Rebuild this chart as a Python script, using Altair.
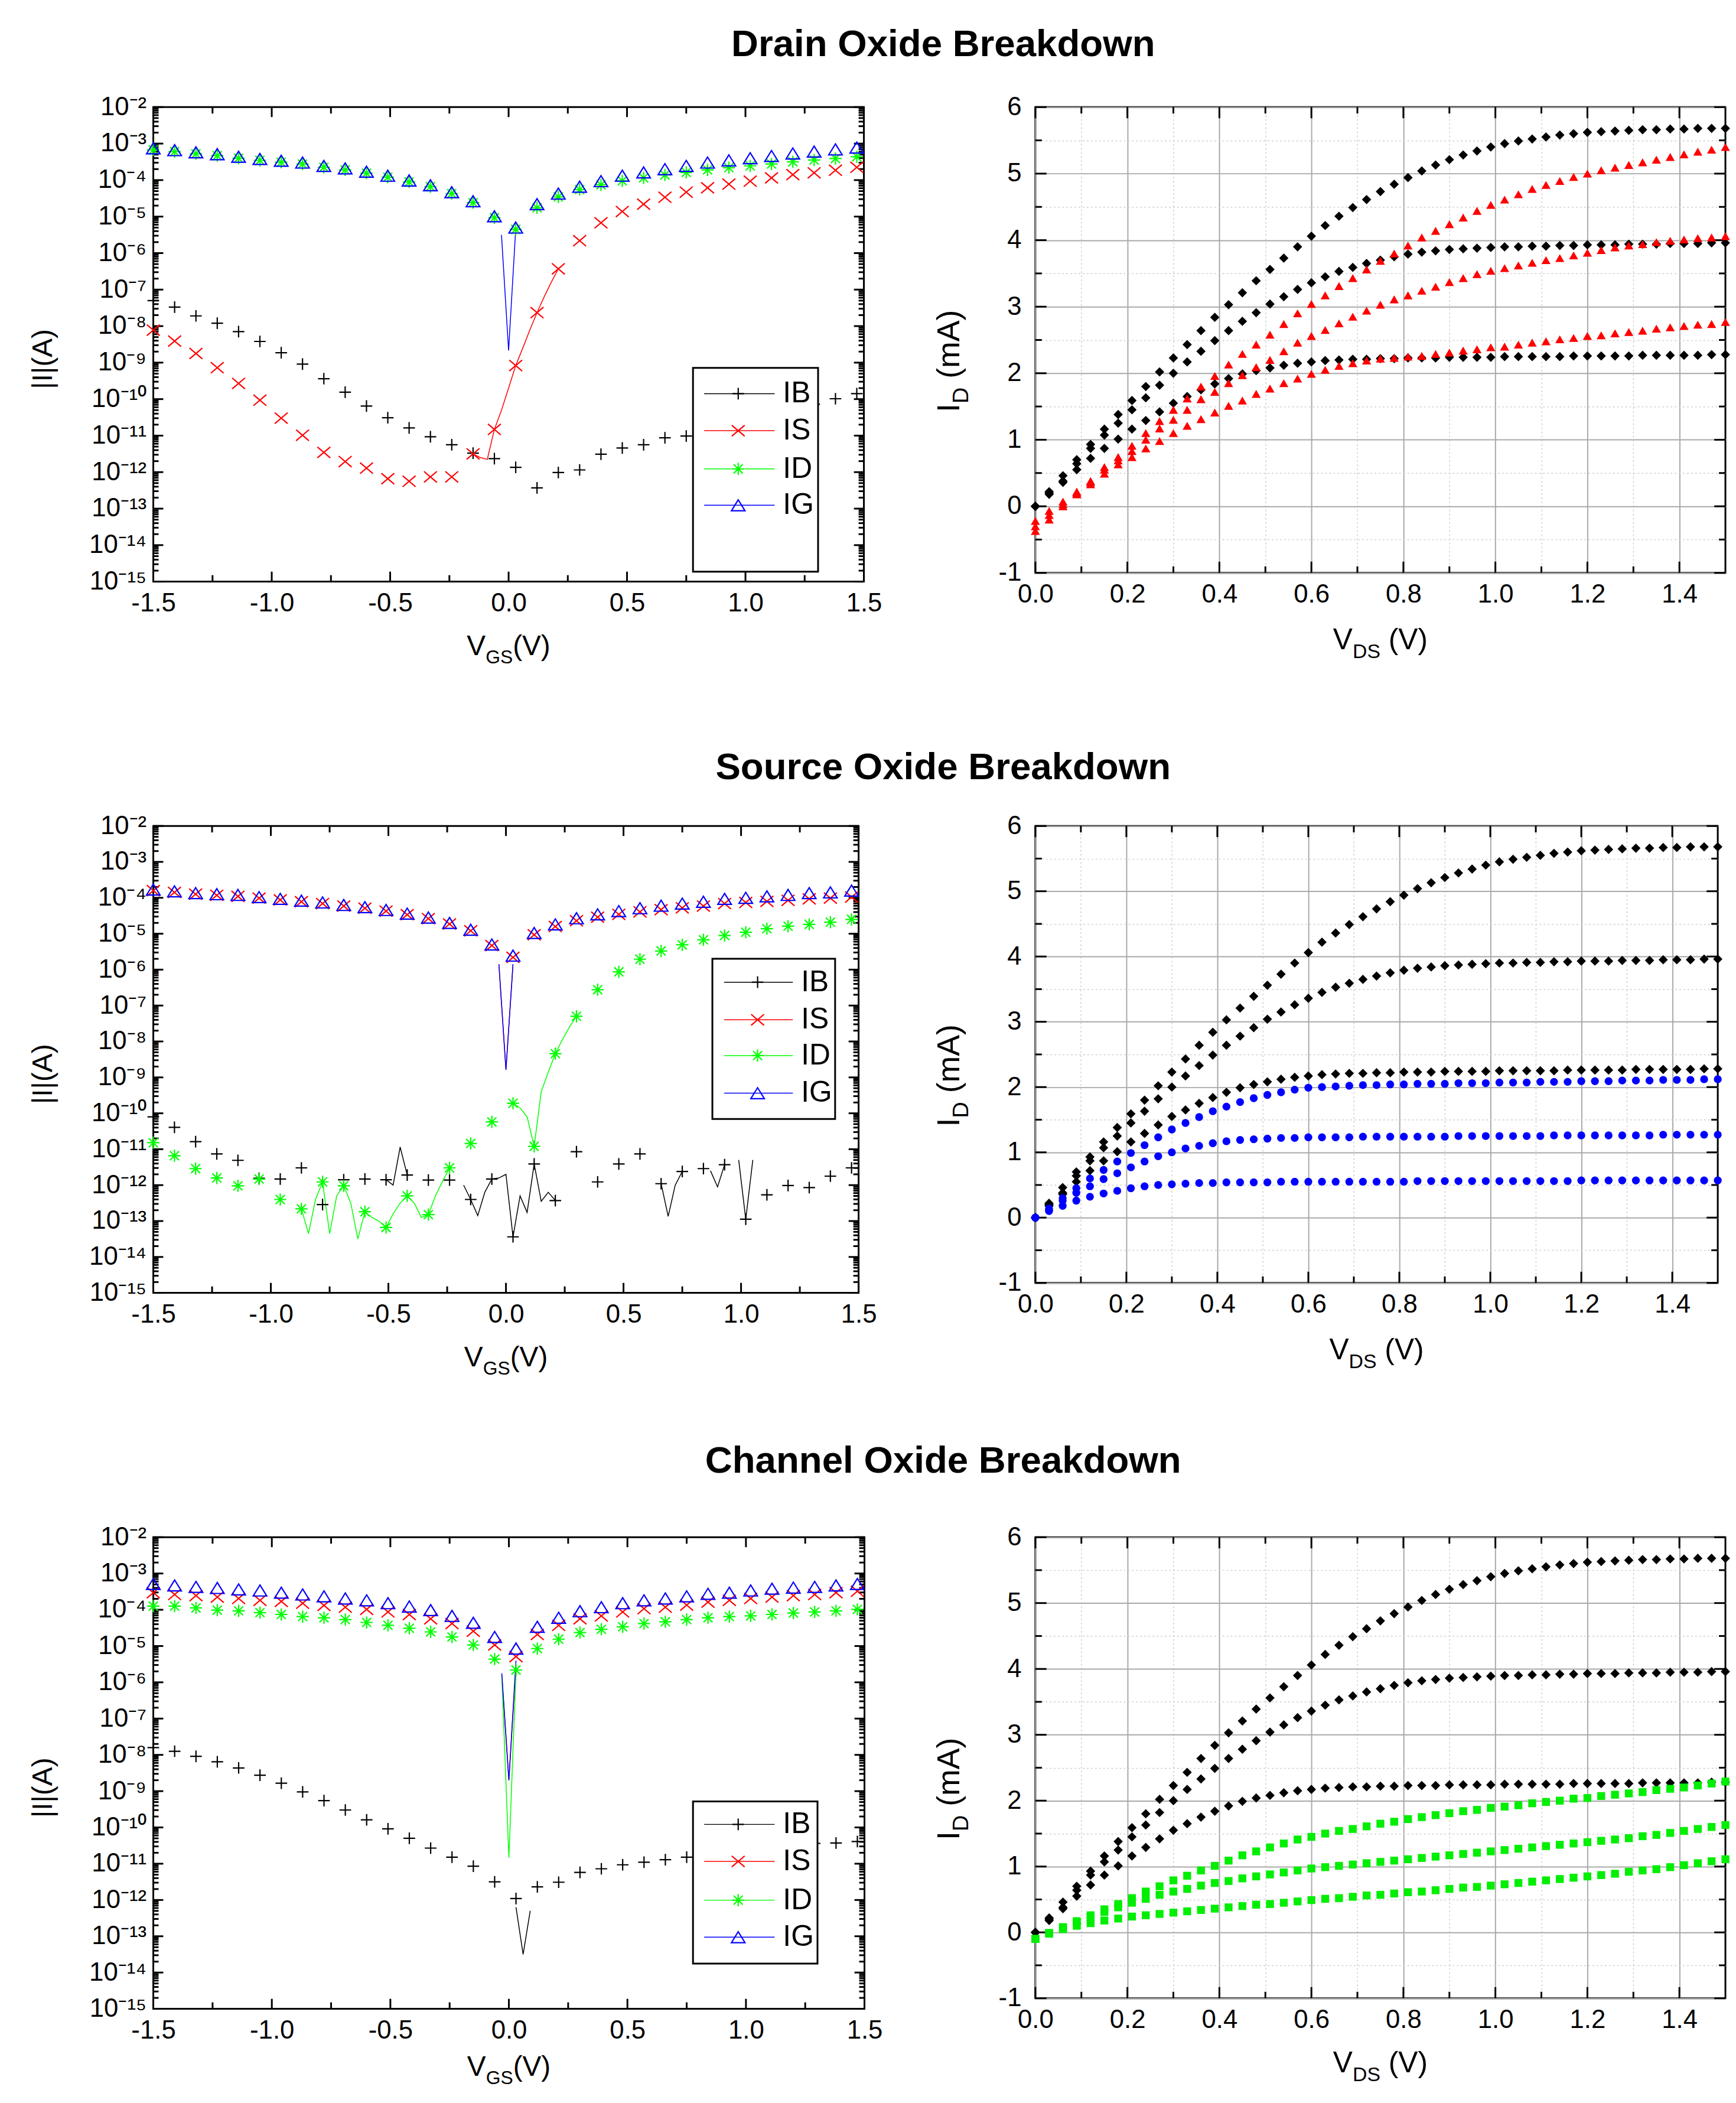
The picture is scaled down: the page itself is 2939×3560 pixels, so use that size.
import altair as alt
import pandas as pd

FONT = "Liberation Sans"
LABEL_SIZE = 44

# ---------------------------------------------------------------- data
SERIES = ["IB", "IS", "ID", "IG"]
SERIES_COLORS = ["#000000", "#ff0000", "#00ff00", "#0000ff"]
SERIES_PATHS = [
    "M-0.9,0H0.9M0,-0.9V0.9",
    "M-1,-0.85L1,0.85M-1,0.85L1,-0.85",
    "M-0.95,0H0.95M0,-0.95V0.95M-0.7,-0.7L0.7,0.7M-0.7,0.7L0.7,-0.7",
    "M0,-0.85L1.05,0.85L-1.05,0.85Z",
]

# gate sweep (markers every 0.09 V)
VGS = [-1.50, -1.41, -1.32, -1.23, -1.14, -1.05, -0.96, -0.87, -0.78, -0.69, -0.60, -0.51,
       -0.42, -0.33, -0.24, -0.15, -0.06, 0.03, 0.12, 0.21, 0.30, 0.39, 0.48, 0.57, 0.66,
       0.75, 0.84, 0.93, 1.02, 1.11, 1.20, 1.29, 1.38, 1.47]

# log10(|I| / A)
DRAIN_IB = [-7.30, -7.48, -7.72, -7.92, -8.15, -8.42, -8.73, -9.04, -9.44, -9.81, -10.19, -10.51,
            -10.79, -11.03, -11.25, -11.48, -11.63, -11.87, -12.43, -12.01, -11.94, -11.51, -11.34,
            -11.25, -11.06, -11.01, -10.86, -10.70, -10.55, -10.39, -10.27, -10.14, -9.99, -9.85]
DRAIN_IS = [-8.11, -8.41, -8.75, -9.14, -9.57, -10.03, -10.52, -10.99, -11.46, -11.71, -11.89, -12.18,
            -12.25, -12.13, -12.13, -11.50, -10.83, -9.08, -7.63, -6.43, -5.66, -5.17, -4.86, -4.66,
            -4.47, -4.33, -4.21, -4.11, -4.03, -3.94, -3.85, -3.80, -3.73, -3.65]
DRAIN_ID = [-3.17, -3.22, -3.28, -3.33, -3.40, -3.46, -3.51, -3.56, -3.65, -3.72, -3.81, -3.92,
            -4.05, -4.18, -4.37, -4.62, -5.03, -5.35, -4.76, -4.46, -4.26, -4.13, -4.02, -3.94,
            -3.86, -3.79, -3.72, -3.66, -3.61, -3.56, -3.50, -3.45, -3.41, -3.36]
DRAIN_IG = [-3.13, -3.18, -3.24, -3.29, -3.36, -3.42, -3.47, -3.52, -3.61, -3.68, -3.77, -3.88,
            -4.01, -4.14, -4.33, -4.58, -4.99, -5.30, -4.66, -4.37, -4.18, -4.03, -3.88, -3.79,
            -3.70, -3.61, -3.52, -3.46, -3.40, -3.34, -3.27, -3.22, -3.16, -3.11]
DRAIN_LINES = [
    ("IS", [-0.15, -0.12, -0.09, -0.06, -0.03, 0.00, 0.03, 0.06, 0.09, 0.12, 0.15, 0.18, 0.21],
     [-11.50, -11.60, -11.65, -10.83, -10.30, -9.70, -9.08, -8.60, -8.10, -7.63, -7.20, -6.80, -6.43]),
    ("IG", [-0.03, 0.00, 0.03], [-5.50, -8.67, -5.35]),
]

SOURCE_IB = [-10.10, -10.39, -10.79, -11.13, -11.31, -11.81, -11.83, -11.52, -12.54, -11.85, -11.83,
             -11.85, -11.72, -11.86, -11.86, -12.40, -11.83, -13.44, -11.41, -12.43, -11.07, -11.91,
             -11.41, -11.13, -11.96, -11.62, -11.54, -11.43, -12.95, -12.27, -12.01, -12.07, -11.75,
             -11.52]
SOURCE_IS = [-3.80, -3.85, -3.90, -3.93, -3.96, -4.01, -4.06, -4.11, -4.16, -4.23, -4.29, -4.37,
             -4.47, -4.58, -4.73, -4.92, -5.33, -5.66, -5.03, -4.80, -4.64, -4.54, -4.46, -4.39,
             -4.33, -4.28, -4.23, -4.16, -4.13, -4.10, -4.07, -4.03, -4.01, -3.98]
SOURCE_ID = [-10.82, -11.18, -11.54, -11.80, -12.02, -11.83, -12.40, -12.66, -11.91, -12.02, -12.74,
             -13.18, -12.30, -12.82, -11.52, -10.84, -10.24, -9.72, -10.92, -8.34, -7.30, -6.56,
             -6.06, -5.71, -5.48, -5.31, -5.17, -5.05, -4.96, -4.86, -4.79, -4.74, -4.68, -4.60]
SOURCE_IG = [-3.77, -3.82, -3.87, -3.90, -3.92, -3.98, -4.03, -4.08, -4.13, -4.20, -4.26, -4.34,
             -4.44, -4.55, -4.70, -4.89, -5.30, -5.61, -4.98, -4.74, -4.57, -4.46, -4.37, -4.29,
             -4.22, -4.16, -4.11, -4.03, -4.00, -3.96, -3.92, -3.87, -3.85, -3.80]
SOURCE_LINES = [
    ("IB", [-0.51, -0.48, -0.45, -0.42], [-11.85, -12.00, -10.94, -11.72]),
    ("IB", [-0.18, -0.15, -0.12, -0.09, -0.06, -0.03, 0.00, 0.03, 0.06, 0.09, 0.12, 0.15, 0.18, 0.21],
     [-12.00, -12.40, -12.85, -12.20, -11.83, -11.80, -11.70, -13.44, -12.30, -12.76, -11.41,
      -12.45, -12.20, -12.43]),
    ("IB", [0.66, 0.69, 0.72, 0.75], [-11.96, -12.87, -12.00, -11.62]),
    ("IB", [0.87, 0.90, 0.93], [-11.60, -12.05, -11.43]),
    ("IB", [0.99, 1.02, 1.05], [-11.30, -12.95, -11.30]),
    ("IS", [-0.03, 0.00, 0.03], [-5.85, -8.79, -5.85]),
    ("ID", [-0.87, -0.84, -0.81, -0.78, -0.75, -0.72, -0.69, -0.66, -0.63, -0.60, -0.57, -0.54,
            -0.51, -0.48, -0.45, -0.42, -0.39, -0.36, -0.33, -0.30, -0.27, -0.24],
     [-12.66, -13.35, -12.40, -11.91, -13.35, -12.30, -12.02, -12.50, -13.50, -12.74, -12.90,
      -13.00, -13.18, -12.80, -12.50, -12.30, -12.50, -12.90, -12.82, -12.30, -11.90, -11.52]),
    ("ID", [0.03, 0.06, 0.09, 0.12, 0.15, 0.18, 0.21, 0.24, 0.27, 0.30],
     [-9.72, -9.85, -10.10, -10.92, -9.40, -8.85, -8.34, -7.95, -7.60, -7.30]),
    ("IG", [-0.03, 0.00, 0.03], [-5.85, -8.79, -5.85]),
]

CHANNEL_IB = [-7.80, -7.90, -8.04, -8.19, -8.36, -8.56, -8.78, -9.02, -9.26, -9.52, -9.79, -10.04,
              -10.30, -10.57, -10.82, -11.07, -11.50, -11.96, -11.64, -11.51, -11.24, -11.14, -11.03,
              -10.96, -10.89, -10.82, -10.73, -10.65, -10.59, -10.54, -10.48, -10.44, -10.43, -10.39]
CHANNEL_IS = [-3.53, -3.58, -3.61, -3.65, -3.69, -3.74, -3.77, -3.82, -3.88, -3.93, -3.99, -4.06,
              -4.13, -4.25, -4.38, -4.59, -4.97, -5.29, -4.68, -4.43, -4.25, -4.17, -4.06, -3.97,
              -3.93, -3.87, -3.79, -3.74, -3.69, -3.65, -3.61, -3.58, -3.53, -3.49]
CHANNEL_ID = [-3.90, -3.90, -3.95, -4.01, -4.03, -4.08, -4.13, -4.19, -4.22, -4.27, -4.35, -4.43,
              -4.51, -4.61, -4.75, -4.97, -5.36, -5.66, -5.07, -4.81, -4.63, -4.54, -4.47, -4.38,
              -4.33, -4.27, -4.22, -4.19, -4.17, -4.13, -4.09, -4.06, -4.03, -3.99]
CHANNEL_IG = [-3.29, -3.33, -3.37, -3.40, -3.44, -3.47, -3.53, -3.58, -3.63, -3.69, -3.74, -3.82,
              -3.91, -4.01, -4.17, -4.36, -4.75, -5.07, -4.47, -4.22, -4.04, -3.93, -3.82, -3.74,
              -3.69, -3.63, -3.56, -3.53, -3.47, -3.42, -3.39, -3.37, -3.33, -3.29]
CHANNEL_LINES = [
    ("IB", [0.03, 0.06, 0.09], [-12.20, -13.50, -12.30]),
    ("IS", [-0.03, 0.00, 0.03], [-5.80, -8.70, -5.50]),
    ("ID", [-0.03, 0.00, 0.03], [-5.80, -10.84, -5.70]),
    ("IG", [-0.03, 0.00, 0.03], [-5.75, -8.70, -5.40]),
]

# drain sweep (mA)
VDS = [0.00, 0.03, 0.06, 0.09, 0.12, 0.15, 0.18, 0.21, 0.24, 0.27, 0.30, 0.33, 0.36, 0.39, 0.42,
       0.45, 0.48, 0.51, 0.54, 0.57, 0.60, 0.63, 0.66, 0.69, 0.72, 0.75, 0.78, 0.81, 0.84, 0.87,
       0.90, 0.93, 0.96, 0.99, 1.02, 1.05, 1.08, 1.11, 1.14, 1.17, 1.20, 1.23, 1.26, 1.29, 1.32,
       1.35, 1.38, 1.41, 1.44, 1.47, 1.50]
FRESH_HI = [0.00, 0.22, 0.46, 0.70, 0.93, 1.16, 1.38, 1.59, 1.80, 2.02, 2.23, 2.43, 2.64, 2.84, 3.03,
            3.21, 3.39, 3.56, 3.73, 3.90, 4.06, 4.22, 4.36, 4.49, 4.61, 4.73, 4.84, 4.94, 5.04, 5.13,
            5.21, 5.28, 5.34, 5.40, 5.45, 5.49, 5.52, 5.55, 5.58, 5.60, 5.62, 5.63, 5.64, 5.65, 5.66,
            5.66, 5.67, 5.67, 5.68, 5.68, 5.68]
FRESH_MID = [0.00, 0.20, 0.38, 0.64, 0.87, 1.07, 1.25, 1.45, 1.63, 1.82, 2.00, 2.17, 2.33, 2.49, 2.64,
             2.78, 2.91, 3.04, 3.15, 3.26, 3.36, 3.45, 3.53, 3.59, 3.65, 3.70, 3.75, 3.79, 3.82, 3.84,
             3.86, 3.87, 3.88, 3.89, 3.90, 3.90, 3.91, 3.91, 3.92, 3.92, 3.93, 3.93, 3.93, 3.94, 3.94,
             3.94, 3.95, 3.95, 3.95, 3.96, 3.96]
FRESH_LO = [0.00, 0.18, 0.36, 0.55, 0.72, 0.87, 1.01, 1.16, 1.29, 1.42, 1.55, 1.65, 1.75, 1.84, 1.92,
            1.99, 2.04, 2.08, 2.12, 2.15, 2.17, 2.19, 2.20, 2.21, 2.21, 2.22, 2.22, 2.23, 2.23, 2.23,
            2.24, 2.24, 2.24, 2.24, 2.25, 2.25, 2.25, 2.25, 2.25, 2.26, 2.26, 2.26, 2.26, 2.26, 2.27,
            2.27, 2.27, 2.27, 2.27, 2.28, 2.28]
DRAIN_HI = [-0.22, -0.07, 0.07, 0.22, 0.38, 0.59, 0.74, 0.91, 1.10, 1.28, 1.45, 1.62, 1.80, 1.96, 2.13,
            2.29, 2.43, 2.58, 2.74, 2.90, 3.04, 3.17, 3.31, 3.43, 3.56, 3.69, 3.80, 3.92, 4.04, 4.14,
            4.24, 4.34, 4.44, 4.53, 4.61, 4.69, 4.77, 4.83, 4.89, 4.95, 5.00, 5.05, 5.09, 5.13, 5.17,
            5.21, 5.25, 5.29, 5.33, 5.36, 5.40]
DRAIN_MID = [-0.30, -0.13, 0.03, 0.20, 0.36, 0.55, 0.69, 0.83, 1.00, 1.17, 1.30, 1.45, 1.61, 1.72, 1.85,
             1.97, 2.09, 2.20, 2.33, 2.46, 2.56, 2.65, 2.75, 2.85, 2.94, 3.03, 3.11, 3.17, 3.24, 3.30,
             3.37, 3.43, 3.49, 3.54, 3.58, 3.62, 3.66, 3.70, 3.73, 3.77, 3.81, 3.85, 3.89, 3.92, 3.94,
             3.97, 3.99, 4.01, 4.03, 4.04, 4.06]
DRAIN_LO = [-0.37, -0.20, 0.00, 0.18, 0.33, 0.49, 0.63, 0.74, 0.87, 0.98, 1.10, 1.21, 1.31, 1.41, 1.51,
            1.59, 1.69, 1.77, 1.85, 1.92, 1.99, 2.05, 2.11, 2.15, 2.19, 2.22, 2.23, 2.25, 2.26, 2.29,
            2.31, 2.34, 2.36, 2.39, 2.40, 2.43, 2.46, 2.48, 2.51, 2.53, 2.56, 2.57, 2.60, 2.62, 2.64,
            2.67, 2.69, 2.71, 2.73, 2.74, 2.77]
SOURCE_HI = [0.00, 0.14, 0.30, 0.45, 0.60, 0.73, 0.86, 0.99, 1.11, 1.23, 1.35, 1.45, 1.54, 1.63, 1.70,
             1.77, 1.83, 1.88, 1.92, 1.96, 1.99, 2.00, 2.01, 2.02, 2.03, 2.03, 2.04, 2.04, 2.05, 2.05,
             2.05, 2.06, 2.06, 2.06, 2.07, 2.07, 2.07, 2.08, 2.08, 2.08, 2.09, 2.09, 2.09, 2.10, 2.10,
             2.10, 2.11, 2.11, 2.11, 2.12, 2.12]
SOURCE_MID = [0.00, 0.12, 0.26, 0.38, 0.48, 0.59, 0.68, 0.77, 0.86, 0.94, 1.00, 1.06, 1.10, 1.14, 1.17,
              1.19, 1.20, 1.21, 1.22, 1.22, 1.23, 1.23, 1.23, 1.23, 1.24, 1.24, 1.24, 1.24, 1.24, 1.24,
              1.24, 1.25, 1.25, 1.25, 1.25, 1.25, 1.25, 1.25, 1.26, 1.26, 1.26, 1.26, 1.26, 1.26, 1.26,
              1.26, 1.27, 1.27, 1.27, 1.27, 1.27]
SOURCE_LO = [0.00, 0.10, 0.18, 0.26, 0.32, 0.37, 0.41, 0.45, 0.48, 0.50, 0.51, 0.52, 0.53, 0.53, 0.54,
             0.54, 0.54, 0.54, 0.55, 0.55, 0.55, 0.55, 0.55, 0.55, 0.55, 0.55, 0.55, 0.55, 0.56, 0.56,
             0.56, 0.56, 0.56, 0.56, 0.56, 0.56, 0.56, 0.56, 0.56, 0.56, 0.57, 0.57, 0.57, 0.57, 0.57,
             0.57, 0.57, 0.57, 0.57, 0.57, 0.57]
CHANNEL_HI = [-0.10, -0.01, 0.08, 0.17, 0.26, 0.35, 0.43, 0.52, 0.62, 0.70, 0.79, 0.86, 0.94, 1.01, 1.09,
              1.17, 1.23, 1.29, 1.35, 1.41, 1.45, 1.50, 1.54, 1.57, 1.61, 1.65, 1.68, 1.72, 1.75, 1.78,
              1.81, 1.84, 1.86, 1.89, 1.91, 1.93, 1.96, 1.98, 2.00, 2.03, 2.04, 2.07, 2.09, 2.11, 2.13,
              2.16, 2.18, 2.20, 2.23, 2.26, 2.29]
CHANNEL_MID = [-0.10, -0.01, 0.07, 0.15, 0.23, 0.31, 0.38, 0.45, 0.51, 0.57, 0.62, 0.66, 0.71, 0.75, 0.78,
               0.82, 0.85, 0.88, 0.91, 0.94, 0.97, 0.99, 1.01, 1.03, 1.05, 1.07, 1.09, 1.11, 1.13, 1.15,
               1.17, 1.19, 1.21, 1.23, 1.25, 1.27, 1.29, 1.31, 1.33, 1.35, 1.37, 1.39, 1.41, 1.43, 1.46,
               1.48, 1.51, 1.54, 1.57, 1.60, 1.63]
CHANNEL_LO = [-0.10, -0.02, 0.05, 0.10, 0.14, 0.18, 0.21, 0.24, 0.26, 0.28, 0.30, 0.32, 0.34, 0.36, 0.38,
              0.40, 0.42, 0.43, 0.45, 0.47, 0.49, 0.51, 0.52, 0.54, 0.56, 0.57, 0.59, 0.61, 0.62, 0.64,
              0.66, 0.68, 0.69, 0.71, 0.73, 0.75, 0.77, 0.79, 0.81, 0.83, 0.85, 0.87, 0.89, 0.92, 0.94,
              0.96, 0.99, 1.02, 1.05, 1.08, 1.11]

ROW_TITLES = ["Drain Oxide Breakdown", "Source Oxide Breakdown", "Channel Oxide Breakdown"]

# axis tick positions
LOG_DECADES = [1e-15, 1e-14, 1e-13, 1e-12, 1e-11, 1e-10, 1e-9, 1e-8, 1e-7, 1e-6, 1e-5, 1e-4, 1e-3, 1e-2]
LOG_MINOR = [m * d for d in LOG_DECADES[:-1] for m in (2, 3, 4, 5, 6, 7, 8, 9)]
VGS_MAJOR = [-1.5, -1.0, -0.5, 0.0, 0.5, 1.0, 1.5]
VGS_MINOR = [-1.25, -0.75, -0.25, 0.25, 0.75, 1.25]
VDS_MAJOR = [0.0, 0.2, 0.4, 0.6, 0.8, 1.0, 1.2, 1.4]
VDS_MINOR = [0.1, 0.3, 0.5, 0.7, 0.9, 1.1, 1.3]
ID_MAJOR = [-1, 0, 1, 2, 3, 4, 5, 6]
ID_MINOR = [-0.5, 0.5, 1.5, 2.5, 3.5, 4.5, 5.5]

# ---------------------------------------------------------------- helpers
ONE = pd.DataFrame({"a": [0]})
SUP = str.maketrans("-0123456789", "\u207b\u2070\u00b9\u00b2\u00b3\u2074\u2075\u2076\u2077\u2078\u2079")
LOG_LABELS = ["10" + str(-i).translate(SUP) for i in range(16)]
LOG_EXPR = "[" + ",".join("'" + s + "'" for s in LOG_LABELS) + "][-round(log(datum.value)/LN10)]"
SIGNED_1F = "(datum.value < 0 ? '-' : '') + format(abs(datum.value), '.1f')"
SIGNED_D = "(datum.value < 0 ? '-' : '') + format(abs(datum.value), 'd')"

CW = {"V": .667, "G": .778, "S": .667, "D": .722, "(": .333, ")": .333, "I": .278,
      "m": .833, "A": .667, "|": .26, " ": .278}


def tw(s, size):
    return sum(CW.get(c, .6) for c in s) * size


def composite_text(parts, x, y, angle, sub_dy):
    """parts: list of (text, fontsize, is_sub); laid out along the text direction."""
    total = sum(tw(t, f) for t, f, _ in parts)
    off = -total / 2.0
    out = []
    for t, f, sub in parts:
        lead = len(t) - len(t.lstrip(" "))
        shown = t.lstrip(" ")
        out.append(
            alt.Chart(ONE).mark_text(
                text=shown, font=FONT, fontSize=f, align="left", baseline="alphabetic",
                angle=angle, dx=off + tw(" " * lead, f), dy=(sub_dy if sub else 0), color="black"
            ).encode(x=alt.value(x), y=alt.value(y))
        )
        off += tw(t, f)
    return out


def tick_rules(vals, scale, W, H, side, length):
    base = alt.Chart(pd.DataFrame({"v": vals})).mark_rule(color="black", strokeWidth=3)
    if side in ("bottom", "top"):
        y0, y1 = (H, H - length) if side == "bottom" else (0, length)
        return base.encode(x=alt.X("v:Q", scale=scale, axis=None),
                           y=alt.value(y0), y2=alt.value(y1))
    x0, x1 = (0, length) if side == "left" else (W, W - length)
    return base.encode(y=alt.Y("v:Q", scale=scale, axis=None),
                       x=alt.value(x0), x2=alt.value(x1))


def label_axis(orient, values, expr, pad, grid=False):
    kw = dict(orient=orient, values=values, labelExpr=expr, ticks=False, domain=False, grid=grid,
              labelFont=FONT, labelFontSize=LABEL_SIZE, labelColor="black", labelPadding=pad,
              labelFlush=False, labelOverlap=False, title=None)
    if grid:
        kw.update(gridColor="#a9a9a9", gridWidth=2)
    return alt.Axis(**kw)


def minor_grid_axis(orient, values):
    return alt.Axis(orient=orient, values=values, labels=False, ticks=False, domain=False, grid=True,
                    gridColor="#cfcfcf", gridWidth=1.5, gridDash=[3, 4], title=None)


def blank_axis(orient):
    return alt.Axis(orient=orient, labels=False, ticks=False, domain=False, grid=False, title=None)


def left_panel(W, H, ib, is_, id_, ig, segs, legend, title, title_y, xt_base):
    xs = alt.Scale(domain=[-1.5, 1.5], nice=False, zero=False)
    ys = alt.Scale(type="log", domain=[1e-15, 1e-2], nice=False)
    layers = [
        tick_rules(VGS_MAJOR, xs, W, H, "bottom", 17),
        tick_rules(VGS_MAJOR, xs, W, H, "top", 17),
        tick_rules(VGS_MINOR, xs, W, H, "bottom", 11),
        tick_rules(VGS_MINOR, xs, W, H, "top", 11),
        tick_rules(LOG_DECADES, ys, W, H, "left", 17),
        tick_rules(LOG_DECADES, ys, W, H, "right", 17),
        tick_rules(LOG_MINOR, ys, W, H, "left", 9),
        tick_rules(LOG_MINOR, ys, W, H, "right", 9),
    ]
    color = alt.Color("series:N", scale=alt.Scale(domain=SERIES, range=SERIES_COLORS), legend=None)
    rows = []
    for k, (s, vs, ls) in enumerate(segs):
        for v, l in zip(vs, ls):
            rows.append({"seg": k, "series": s, "V": v, "I": 10.0 ** l})
    ldf = pd.DataFrame(rows)
    layers.append(
        alt.Chart(ldf).mark_line(strokeWidth=1.5).encode(
            x=alt.X("V:Q", scale=xs, axis=label_axis("bottom", VGS_MAJOR, SIGNED_1F, 15)),
            y=alt.Y("I:Q", scale=ys, axis=label_axis("left", LOG_DECADES, LOG_EXPR, 12)),
            color=color, detail="seg:N")
    )
    prow = []
    for s, vals in zip(SERIES, [ib, is_, id_, ig]):
        for v, l in zip(VGS, vals):
            prow.append({"series": s, "V": v, "I": 10.0 ** l})
    layers.append(
        alt.Chart(pd.DataFrame(prow)).mark_point(filled=False, strokeWidth=2.2, size=484, opacity=1).encode(
            x=alt.X("V:Q", scale=xs, axis=blank_axis("top")),
            y=alt.Y("I:Q", scale=ys, axis=blank_axis("right")),
            color=color,
            shape=alt.Shape("series:N", scale=alt.Scale(domain=SERIES, range=SERIES_PATHS), legend=None))
    )
    # legend (inside the frame)
    bx1, bx2, by1, by2, ey, lx1, lx2, mx, tx = legend
    layers.append(alt.Chart(ONE).mark_rect(fill="white", stroke="black", strokeWidth=3).encode(
        x=alt.value(bx1), x2=alt.value(bx2), y=alt.value(by1), y2=alt.value(by2)))
    for s, c, p, yy in zip(SERIES, SERIES_COLORS, SERIES_PATHS, ey):
        layers.append(alt.Chart(ONE).mark_rule(color=c, strokeWidth=1.5).encode(
            x=alt.value(lx1), x2=alt.value(lx2), y=alt.value(yy)))
        layers.append(alt.Chart(ONE).mark_point(shape=p, color=c, filled=False, size=484,
                                                strokeWidth=2.2, opacity=1).encode(
            x=alt.value(mx), y=alt.value(yy)))
        layers.append(alt.Chart(ONE).mark_text(text=s, font=FONT, fontSize=50, align="left",
                                               baseline="middle", color="black").encode(
            x=alt.value(tx), y=alt.value(yy)))
    # axis titles
    layers += composite_text([("|I|(A)", 48, False)], -173, H / 2 + 25, 270, 0)
    layers += composite_text([("V", 48, False), ("GS", 32, True), ("(V)", 48, False)],
                             W / 2, H + xt_base, 0, 14)
    # row title
    layers.append(alt.Chart(ONE).mark_text(text=title, font=FONT, fontSize=64, fontWeight="bold",
                                           align="center", baseline="middle", color="black").encode(
        x=alt.value(1345), y=alt.value(title_y)))
    return alt.layer(*layers).properties(width=W, height=H)


def right_panel(W, H, col_vals, col_color, col_shape, col_size, xt_base):
    xs = alt.Scale(domain=[0, 1.5], nice=False, zero=False)
    ys = alt.Scale(domain=[-1, 6], nice=False, zero=False)
    layers = [
        tick_rules(VDS_MAJOR, xs, W, H, "bottom", 19),
        tick_rules(VDS_MAJOR, xs, W, H, "top", 19),
        tick_rules(VDS_MINOR, xs, W, H, "bottom", 11),
        tick_rules(VDS_MINOR, xs, W, H, "top", 11),
        tick_rules(ID_MAJOR, ys, W, H, "left", 19),
        tick_rules(ID_MAJOR, ys, W, H, "right", 19),
        tick_rules(ID_MINOR, ys, W, H, "left", 11),
        tick_rules(ID_MINOR, ys, W, H, "right", 11),
    ]
    fresh = pd.DataFrame([{"curve": n, "V": v, "I": i}
                          for n, vals in (("hi", FRESH_HI), ("mid", FRESH_MID), ("lo", FRESH_LO))
                          for v, i in zip(VDS, vals)])
    layers.append(alt.Chart(fresh).mark_point(filled=True, shape="diamond", size=250, color="black",
                                              opacity=1, strokeWidth=0).encode(
        x=alt.X("V:Q", scale=xs, axis=label_axis("bottom", VDS_MAJOR, SIGNED_1F, 15, True)),
        y=alt.Y("I:Q", scale=ys, axis=label_axis("left", ID_MAJOR, SIGNED_D, 24, True)),
        detail="curve:N"))
    stressed = pd.DataFrame([{"curve": n, "V": v, "I": i}
                             for n, vals in zip(("hi", "mid", "lo"), col_vals)
                             for v, i in zip(VDS, vals)])
    layers.append(alt.Chart(stressed).mark_point(filled=True, shape=col_shape, size=col_size,
                                                 color=col_color, opacity=1, strokeWidth=0).encode(
        x=alt.X("V:Q", scale=xs, axis=minor_grid_axis("top", VDS_MINOR)),
        y=alt.Y("I:Q", scale=ys, axis=minor_grid_axis("right", ID_MINOR)),
        detail="curve:N"))
    layers += composite_text([("I", 54, False), ("D", 38, True), (" (mA)", 54, False)],
                             -130, H / 2 + 36, 270, 15)
    layers += composite_text([("V", 50, False), ("DS", 34, True), (" (V)", 50, False)],
                             W / 2, H + xt_base, 0, 15)
    return alt.layer(*layers).properties(width=W, height=H)


# legend geometry: box x1,x2,y1,y2, entry ys, line x1,x2, marker x, text x
LEG_DRAIN = (919, 1132, 444, 791, [488, 551, 616, 678], 938, 1058, 996, 1072)
LEG_SOURCE = (952, 1161, 226, 499, [266, 330, 391, 455], 972, 1089, 1029, 1103)
LEG_CHANNEL = (919, 1131, 450, 726, [489, 552, 618, 681], 938, 1058, 996, 1072)

L1 = left_panel(1210, 808, DRAIN_IB, DRAIN_IS, DRAIN_ID, DRAIN_IG, DRAIN_LINES, LEG_DRAIN,
                ROW_TITLES[0], -106, 125)
R1 = right_panel(1175, 793, [DRAIN_HI, DRAIN_MID, DRAIN_LO], "#ff0000", "triangle-up", 240, 130)
L2 = left_panel(1201, 795, SOURCE_IB, SOURCE_IS, SOURCE_ID, SOURCE_IG, SOURCE_LINES, LEG_SOURCE,
                ROW_TITLES[1], -99, 125)
R2 = right_panel(1162, 778, [SOURCE_HI, SOURCE_MID, SOURCE_LO], "#0000ff", "circle", 180, 130)
L3 = left_panel(1211, 803, CHANNEL_IB, CHANNEL_IS, CHANNEL_ID, CHANNEL_IG, CHANNEL_LINES, LEG_CHANNEL,
                ROW_TITLES[2], -129, 114)
R3 = right_panel(1175, 785, [CHANNEL_HI, CHANNEL_MID, CHANNEL_LO], "#00ee00", "square", 180, 126)

chart = alt.concat(
    L1, R1, L2, R2, L3, R3, columns=2,
    spacing={"row": 416, "column": 291}, bounds="flush", align="each",
).resolve_scale(
    x="independent", y="independent", color="independent", shape="independent"
).properties(
    padding={"left": 40, "top": 24, "right": 0, "bottom": 0}
).configure_view(stroke="black", strokeWidth=3)

chart.save("out.html", embed_options={"renderer": "svg", "actions": False})
